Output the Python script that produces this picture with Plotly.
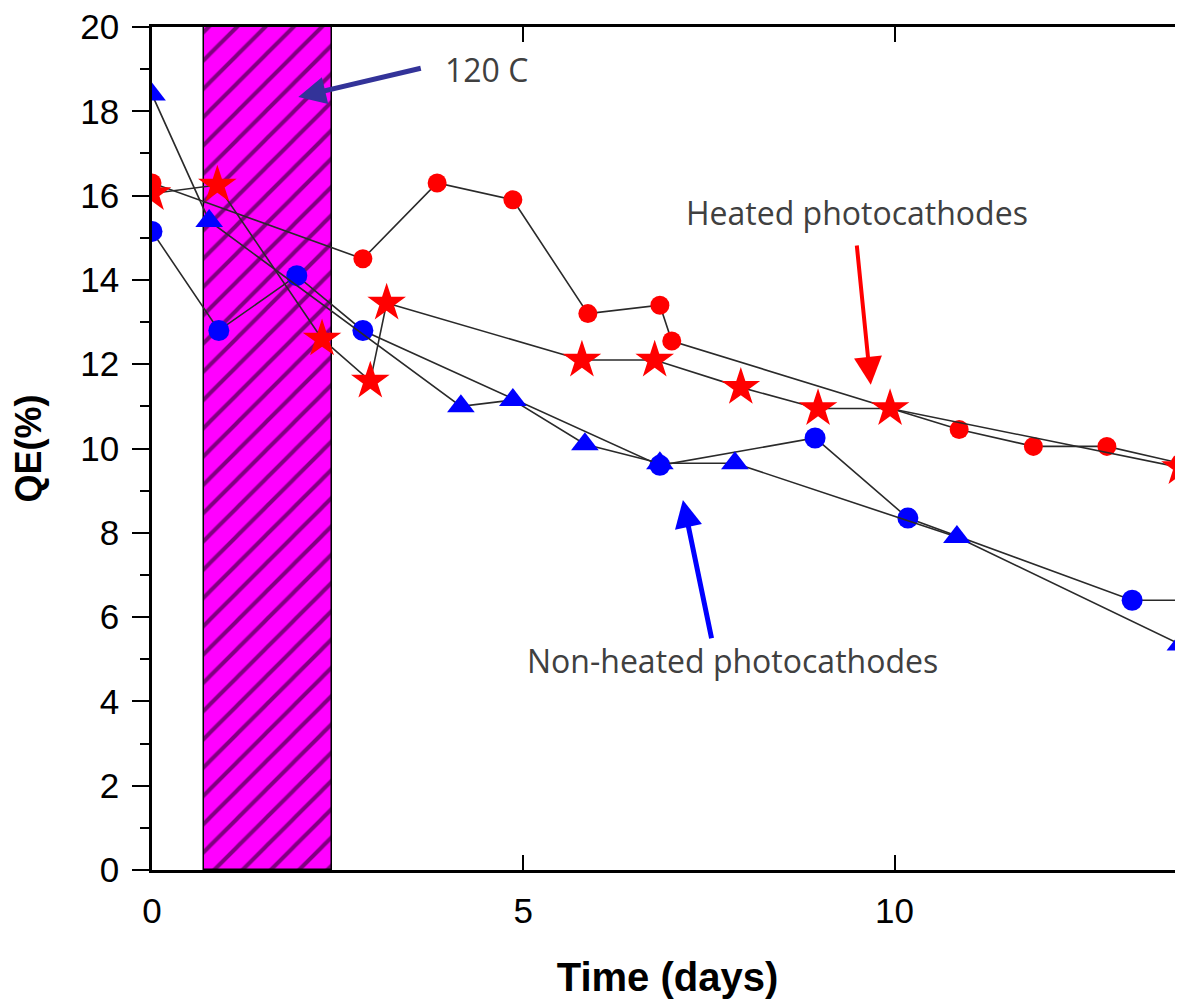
import plotly.graph_objects as go

# ---- data ----
red_circ_x = [0, 2.84, 3.84, 4.86, 5.87, 6.84, 7.0, 10.87, 11.87, 12.86, 13.85]
red_circ_y = [16.3, 14.5, 16.3, 15.9, 13.2, 13.4, 12.55, 10.45, 10.05, 10.05, 9.65]

red_star_x = [0, 0.88, 2.29, 2.94, 3.16, 5.79, 6.77, 7.93, 8.97, 9.94, 13.85]
red_star_y = [16.05, 16.25, 12.6, 11.6, 13.45, 12.1, 12.1, 11.45, 10.95, 10.95, 9.55]

blue_circ_x = [0, 0.9, 1.95, 2.84, 6.84, 8.93, 10.18, 13.2, 14.2]
blue_circ_y = [15.15, 12.8, 14.1, 12.8, 9.6, 10.25, 8.35, 6.4, 6.4]

blue_tri_x = [0, 0.77, 4.16, 4.86, 5.83, 6.84, 7.85, 10.84, 13.85]
blue_tri_y = [18.4, 15.4, 11.0, 11.15, 10.1, 9.65, 9.65, 7.9, 5.35]

heat_start, heat_end = 0.70, 2.42
qe_max = 20

x_ticks = [0, 5, 10]
y_ticks = [0, 2, 4, 6, 8, 10, 12, 14, 16, 18, 20]

line_col = "#2a2a2a"
tick_font = dict(family="Liberation Sans, Arial, sans-serif", size=35, color="black")
note_font = dict(family="Open Sans, Noto Sans, sans-serif", size=32, color="#404040")

fig = go.Figure()

# heating period (hatched)
fig.add_trace(go.Bar(
    x=[(heat_start + heat_end) / 2], y=[qe_max], width=[heat_end - heat_start],
    marker=dict(color="#FF00FF", line=dict(color="black", width=1.5),
                pattern=dict(shape="/", fgcolor="black", bgcolor="#FF00FF",
                             size=20, solidity=0.2, fillmode="overlay")),
    showlegend=False, hoverinfo="skip"))

def series(x, y, color, symbol, size):
    fig.add_trace(go.Scatter(
        x=x, y=y, mode="lines+markers",
        line=dict(color=line_col, width=1.6),
        marker=dict(color=color, symbol=symbol, size=size, line=dict(width=0)),
        showlegend=False))

series(red_circ_x, red_circ_y, "#FF0000", "circle", 19)
series(red_star_x, red_star_y, "#FF0000", "star", 29)
series(blue_circ_x, blue_circ_y, "#0000FF", "circle", 21)
series(blue_tri_x, blue_tri_y, "#0000FF", "triangle-up", 24)

# y2 for right-side inward ticks
fig.add_trace(go.Scatter(x=[None], y=[None], yaxis="y2", showlegend=False))

# annotations: texts
fig.add_annotation(x=4.5, y=18.98, text="120 C", showarrow=False, font=note_font)
fig.add_annotation(x=9.5, y=15.6, text="Heated photocathodes", showarrow=False, font=note_font)
fig.add_annotation(x=7.82, y=4.98, text="Non-heated photocathodes", showarrow=False, font=note_font)

# arrows
def arrow(x0, y0, x1, y1, color, width, size):
    fig.add_annotation(x=x1, y=y1, ax=x0, ay=y0, xref="x", yref="y", axref="x", ayref="y",
                       text="", showarrow=True, arrowhead=2, arrowsize=size,
                       arrowwidth=width, arrowcolor=color)

arrow(3.64, 19.03, 1.97, 18.34, "#333399", 5, 1.1)
arrow(9.49, 14.85, 9.68, 11.51, "#FF0000", 4, 1.4)
arrow(7.54, 5.46, 7.15, 8.78, "#0000FF", 5, 1.1)

# the page body has an 8px margin, so the figure is sized/offset to compensate
fig.update_layout(
    width=1175, height=998,
    margin=dict(l=144, r=0, t=19, b=136, autoexpand=False),
    plot_bgcolor="white", paper_bgcolor="white",
    bargap=0,
    xaxis=dict(range=[0, 13.885], tickvals=x_ticks, ticks="inside", ticklen=15, tickwidth=2,
               tickcolor="black", showline=True, linecolor="black", linewidth=2.5,
               mirror="ticks", showgrid=False, zeroline=False, tickfont=tick_font,
               ticklabelstandoff=8, ticklabeloverflow="allow",
               title=dict(text="<b>Time (days)</b>", standoff=35,
                          font=dict(family="Liberation Sans, Arial, sans-serif", size=40, color="black"))),
    yaxis=dict(range=[0, qe_max], tickvals=y_ticks, ticks="outside", ticklen=17, tickwidth=2,
               tickcolor="black", showline=True, linecolor="black", linewidth=2.5,
               showgrid=False, zeroline=False, tickfont=tick_font, ticklabelstandoff=6,
               ticklabeloverflow="allow",
               minor=dict(dtick=1, ticks="outside", ticklen=9, tickwidth=2, tickcolor="black", showgrid=False),
               title=dict(text="<b>QE(%)</b>", standoff=28,
                          font=dict(family="Liberation Sans, Arial, sans-serif", size=36, color="black"))),
    yaxis2=dict(range=[0, qe_max], overlaying="y", side="right", tickvals=y_ticks, ticks="inside",
                ticklen=8, tickwidth=2, tickcolor="black", showticklabels=False, showline=False,
                showgrid=False, zeroline=False),
)

fig.write_html("out.html")
